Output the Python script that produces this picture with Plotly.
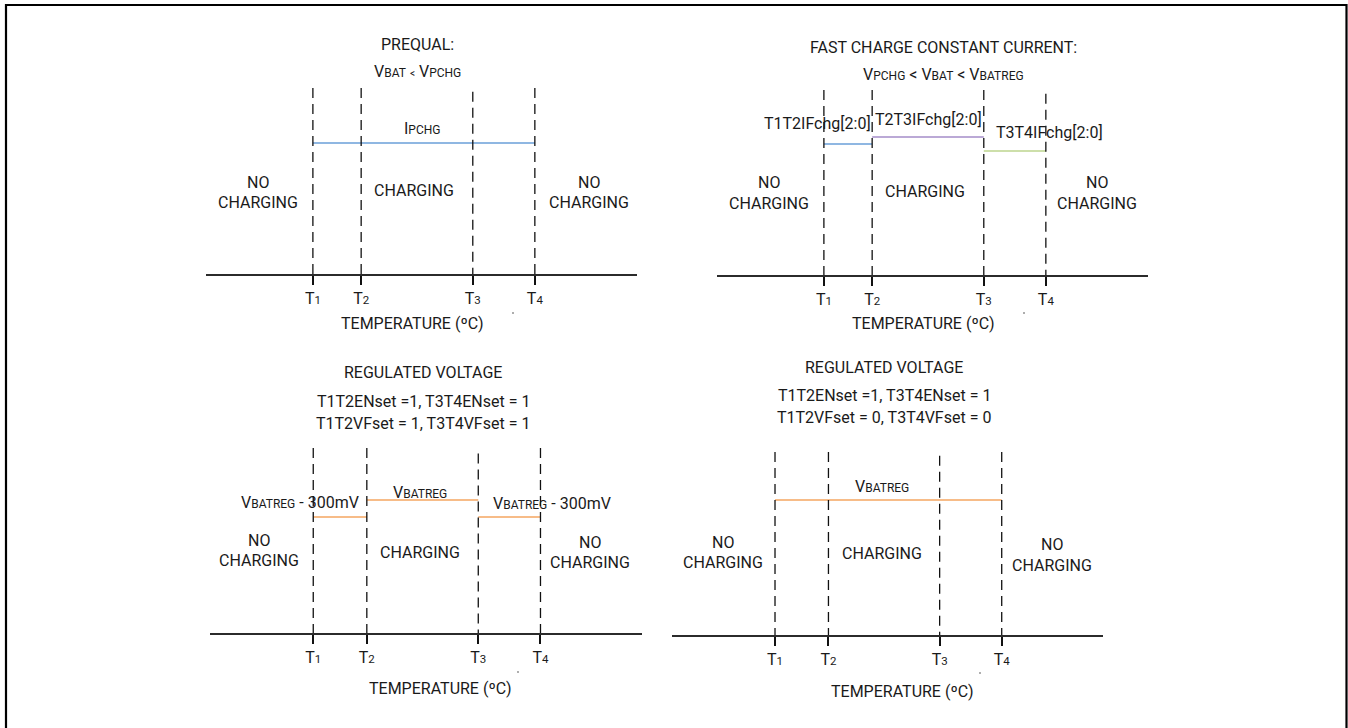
import plotly.graph_objects as go

W, H = 1348, 728
FONT = "Roboto, Liberation Sans, Arial, sans-serif"
FS = 16
TXT = "#1a1a1a"


def sm(s, size=12):
    return f"<span style='font-size:{size}px'>{s}</span>"


# ---------------- data ----------------
T_TICKS = ["T" + sm(n, 11.5) for n in ["1", "2", "3", "4"]]
# temperature thresholds (axis units, baseline spans 0..100)
T_UPPER = [24.8, 36.0, 61.9, 76.3]
T_LOWER = [23.9, 36.3, 62.1, 76.5]

# heights of the dashed threshold markers per panel
DASH_H = [
    [100, 100, 98, 100],
    [100, 100, 100, 98],
    [100, 100, 97, 100],
    [100, 100, 98, 100],
]

# level segments per panel: start threshold index, end threshold index, level
SEG_START = [[0], [0, 1, 2], [0, 1, 2], [0]]
SEG_END = [[3], [1, 2, 3], [1, 2, 3], [3]]
SEG_LEVEL = [[70.4], [70.8, 74.6, 67.0], [62.7, 71.9, 62.7], [73.8]]
SEG_COLOR = [["#6a9fd8"], ["#6a9fd8", "#a48cc8", "#bcd48e"],
             ["#f5a661", "#f5a661", "#f5a661"], ["#f5a661"]]

# ---------------- layout frames (pixels) ----------------
# x0, x1 of baseline, baseline y, y of level 100
PANELS = [
    (206, 637, 274, 88),
    (717, 1148, 275, 90),
    (210, 642, 633, 448),
    (672, 1103, 635, 452),
]
Y_HI = 105

V_BAT = "V" + sm("BAT")
V_PCHG = "V" + sm("PCHG")
V_BATREG = "V" + sm("BATREG")
TEMP = "TEMPERATURE (ºC)"

# text, x px, y px
TEXTS = [
    ("PREQUAL:", 417, 44),
    (V_BAT + " " + sm("&lt;", 10) + " " + V_PCHG, 417, 72),
    ("I" + sm("PCHG"), 422, 128),
    ("NO", 258, 182), ("CHARGING", 258, 202),
    ("CHARGING", 414, 191),
    ("NO", 589, 182), ("CHARGING", 589, 202),
    (TEMP, 412, 323),

    ("FAST CHARGE CONSTANT CURRENT:", 943, 48),
    (V_PCHG + " &lt; " + V_BAT + " &lt; " + V_BATREG, 943, 75),
    ("T1T2IFchg[2:0]", 817, 123),
    ("T2T3IFchg[2:0]", 928, 120),
    ("T3T4IFchg[2:0]", 1049, 132),
    ("NO", 769, 182), ("CHARGING", 769, 203),
    ("CHARGING", 925, 192),
    ("NO", 1097, 182), ("CHARGING", 1097, 203),
    (TEMP, 923, 323),

    ("REGULATED VOLTAGE", 423, 373),
    ("T1T2ENset =1, T3T4ENset = 1", 423, 401),
    ("T1T2VFset = 1, T3T4VFset = 1", 423, 423),
    (V_BATREG + " - 300mV", 300, 502),
    (V_BATREG, 420, 492),
    (V_BATREG + " - 300mV", 552, 503),
    ("NO", 259, 540), ("CHARGING", 259, 560),
    ("CHARGING", 420, 552),
    ("NO", 590, 542), ("CHARGING", 590, 562),
    (TEMP, 440, 688),

    ("REGULATED VOLTAGE", 884, 367),
    ("T1T2ENset =1, T3T4ENset = 1", 884, 396),
    ("T1T2VFset = 0, T3T4VFset = 0", 884, 417),
    (V_BATREG, 882, 487),
    ("NO", 723, 542), ("CHARGING", 723, 562),
    ("CHARGING", 882, 553),
    ("NO", 1052, 544), ("CHARGING", 1052, 565),
    (TEMP, 902, 691),
]

DOTS = [(513, 313), (1024, 313), (518, 672), (980, 673)]

fig = go.Figure()
layout_axes = {}

for i, (x0, x1, base, top) in enumerate(PANELS):
    sfx = "" if i == 0 else str(i + 1)
    xn, yn = "x" + sfx, "y" + sfx
    temps = T_UPPER if i < 2 else T_LOWER

    for s, e, lv, c in zip(SEG_START[i], SEG_END[i], SEG_LEVEL[i], SEG_COLOR[i]):
        fig.add_trace(go.Scatter(
            x=[temps[s], temps[e]], y=[lv, lv], mode="lines",
            line=dict(color=c, width=1.6), xaxis=xn, yaxis=yn,
            hoverinfo="skip", showlegend=False))

    for t, h in zip(temps, DASH_H[i]):
        fig.add_trace(go.Scatter(
            x=[t, t], y=[h, 0], mode="lines",
            line=dict(color="#111111", width=1.3, dash="10px,6px"),
            xaxis=xn, yaxis=yn, hoverinfo="skip", showlegend=False))

    ytop_px = base - (base - top) * Y_HI / 100
    layout_axes["xaxis" + sfx] = dict(
        domain=[x0 / W, x1 / W], range=[0, 100], anchor=yn,
        showline=True, linecolor="#2b2b2b", linewidth=1.5,
        ticks="outside", ticklen=9, tickwidth=1.5, tickcolor="#111111",
        tickvals=temps, ticktext=T_TICKS,
        tickfont=dict(family=FONT, size=FS, color=TXT),
        showgrid=False, zeroline=False, fixedrange=True)
    layout_axes["yaxis" + sfx] = dict(
        domain=[1 - base / H, 1 - ytop_px / H], range=[0, Y_HI],
        anchor=xn, visible=False, fixedrange=True)

annotations = [
    dict(text=t, x=px / W, y=1 - py / H, xref="paper", yref="paper",
         xanchor="center", yanchor="middle", showarrow=False,
         font=dict(family=FONT, size=FS, color=TXT))
    for t, px, py in TEXTS
]

shapes = [dict(type="rect", xref="paper", yref="paper",
               x0=6 / W, x1=1346.5 / W, y0=-0.05, y1=1 - 5 / H,
               line=dict(color="#000000", width=2.2))]
for dx, dy in DOTS:
    shapes.append(dict(type="circle", xref="paper", yref="paper",
                       x0=(dx - 0.8) / W, x1=(dx + 0.8) / W,
                       y0=1 - (dy + 0.8) / H, y1=1 - (dy - 0.8) / H,
                       fillcolor="#444444", line=dict(width=0)))

fig.update_layout(
    width=W, height=H, margin=dict(l=0, r=0, t=0, b=0),
    paper_bgcolor="white", plot_bgcolor="white",
    font=dict(family=FONT, size=FS, color=TXT),
    annotations=annotations, shapes=shapes, showlegend=False,
    **layout_axes)

fig.write_html(
    "out.html", config={"displayModeBar": False},
    post_script="document.body.style.margin='0';"
                "document.body.style.overflow='hidden';")
